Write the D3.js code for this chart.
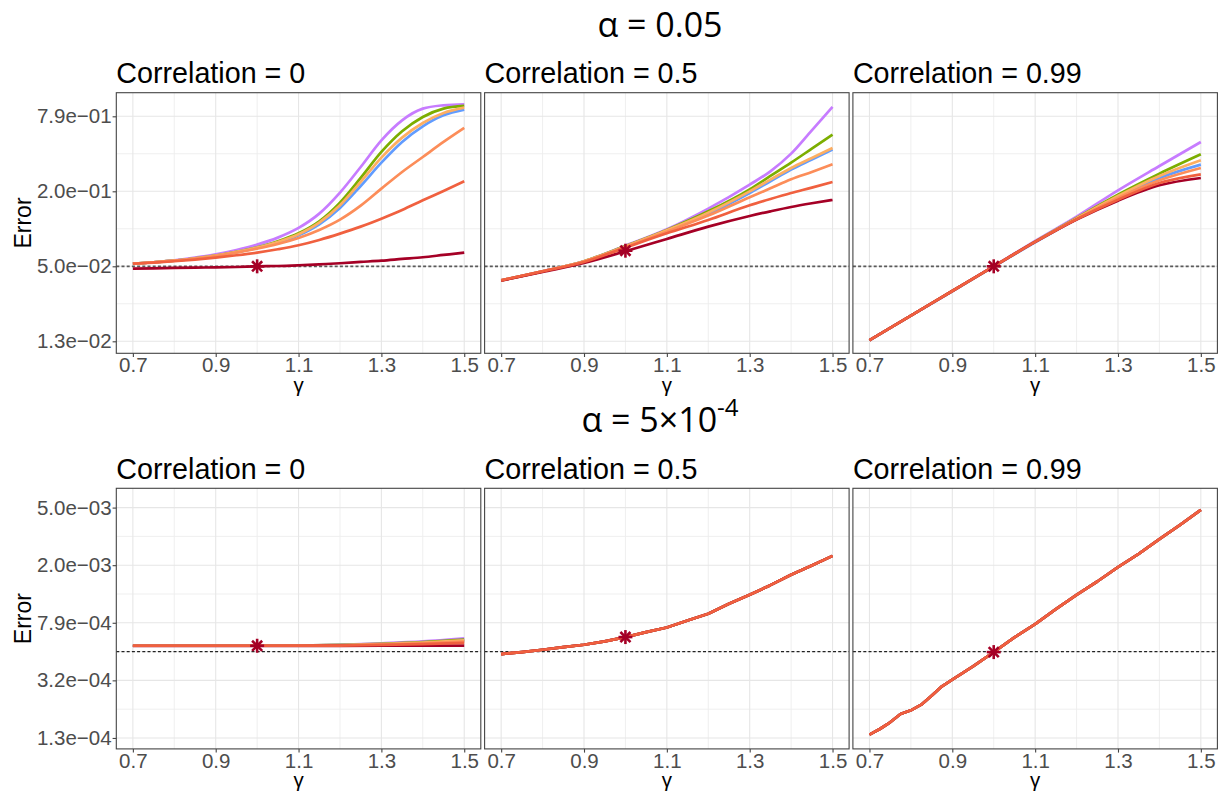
<!DOCTYPE html>
<html><head><meta charset="utf-8">
<script src="https://cdn.jsdelivr.net/npm/d3@7"></script>
<style>body{margin:0;background:#fff}svg{display:block}</style>
</head><body>
<svg id="chart" width="1223" height="796"></svg>
<script>
// ---------------- DATA ----------------
const rowTitles = ["α = 0.05", "α = 5×10"];
const rowTitleSup = ["", "-4"];
const alphaLevels = [0.05, 5e-4];
const corrTitles = ["Correlation = 0", "Correlation = 0.5", "Correlation = 0.99"];

const xTicks = [0.7, 0.9, 1.1, 1.3, 1.5];
const xMinor = [0.8, 1.0, 1.2, 1.4];
const xTickLabels = ["0.7", "0.9", "1.1", "1.3", "1.5"];

const yTicksTop = [0.012589, 0.050119, 0.199526, 0.794328];
const yMinorTop = [0.025119, 0.1, 0.398107];
const yTickLabelsTop = ["1.3e−02", "5.0e−02", "2.0e−01", "7.9e−01"];
const yTicksBottom = [0.00012589, 0.00031623, 0.00079433, 0.0019953, 0.0050119];
const yMinorBottom = [0.00019953, 0.00050119, 0.0012589, 0.0031623];
const yTickLabelsBottom = ["1.3e−04", "3.2e−04", "7.9e−04", "2.0e−03", "5.0e−03"];
const yLimitsTop = [0.010093, 1.2270];
const yLimitsBottom = [0.00010568, 0.0068234];

const seriesOrder = ["purple", "green", "blue", "lightorange", "orange", "darkred", "redorange"];

const gammaFine = [0.7,0.75,0.8,0.85,0.9,0.95,1.0,1.05,1.1,1.15,1.2,1.25,1.3,1.35,1.4,1.45,1.5];
const gammaTop2 = [0.7,0.8,0.9,1.0,1.1,1.2,1.3,1.35,1.4,1.45,1.5];
const gammaNine = [0.7,0.8,0.9,1.0,1.1,1.2,1.3,1.4,1.5];
const gammaBottom3 = [0.7,0.725,0.75,0.775,0.8,0.825,0.85,0.875,0.9,0.95,1.0,1.05,1.1,1.15,1.2,1.25,1.3,1.35,1.4,1.45,1.5];

// alpha = 0.05, correlation = 0
const top_r0 = {
  purple:      [0.0526,0.0540,0.0560,0.0588,0.0625,0.0677,0.0747,0.0850,0.1016,0.1322,0.1947,0.3123,0.5105,0.7379,0.9148,0.9728,0.9909],
  green:       [0.0526,0.0540,0.0556,0.0581,0.0610,0.0653,0.0711,0.0794,0.0920,0.1148,0.1619,0.2551,0.4118,0.6026,0.7846,0.9148,0.9609],
  lightorange: [0.0526,0.0540,0.0556,0.0581,0.0610,0.0653,0.0707,0.0785,0.0904,0.1120,0.1542,0.2370,0.3709,0.5362,0.7026,0.8446,0.9318],
  blue:        [0.0526,0.0540,0.0556,0.0577,0.0606,0.0649,0.0703,0.0775,0.0887,0.1086,0.1468,0.2201,0.3383,0.4951,0.6607,0.8091,0.8981],
  orange:      [0.0526,0.0540,0.0556,0.0577,0.0606,0.0645,0.0694,0.0756,0.0845,0.0979,0.1184,0.1532,0.2096,0.2849,0.3755,0.4951,0.6408],
  redorange:   [0.0526,0.0536,0.0550,0.0567,0.0588,0.0614,0.0645,0.0686,0.0738,0.0814,0.0915,0.1041,0.1206,0.1415,0.1690,0.2008,0.2399],
  darkred:     [0.0480,0.0483,0.0486,0.0489,0.0492,0.0495,0.0501,0.0504,0.0511,0.0520,0.0530,0.0543,0.0556,0.0574,0.0592,0.0618,0.0645]
};
// alpha = 0.05, correlation = 0.5
const top_r05 = {
  purple:      [0.0387,0.0457,0.0550,0.0733,0.0991,0.1450,0.2256,0.2884,0.3993,0.6138,0.9434],
  green:       [0.0387,0.0457,0.0550,0.0729,0.0979,0.1380,0.2070,0.2647,0.3383,0.4378,0.5667],
  lightorange: [0.0387,0.0457,0.0550,0.0724,0.0973,0.1347,0.1995,0.2474,0.3066,0.3687,0.4433],
  blue:        [0.0387,0.0457,0.0546,0.0720,0.0961,0.1314,0.1935,0.2399,0.2973,0.3576,0.4299],
  orange:      [0.0387,0.0457,0.0546,0.0716,0.0949,0.1275,0.1787,0.2109,0.2489,0.2849,0.3281],
  redorange:   [0.0387,0.0457,0.0543,0.0707,0.0920,0.1177,0.1542,0.1733,0.1935,0.2135,0.2370],
  darkred:     [0.0385,0.0452,0.0533,0.0661,0.0829,0.1041,0.1267,0.1380,0.1495,0.1600,0.1701]
};
// alpha = 0.05, correlation = 0.99
const top_r099 = {
  purple:      [0.01283,0.02020,0.03182,0.05043,0.07992,0.1251,0.2032,0.3182,0.4951],
  green:       [0.01283,0.02020,0.03182,0.05012,0.07895,0.1221,0.1877,0.2763,0.3945],
  lightorange: [0.01283,0.02020,0.03182,0.05012,0.07895,0.1213,0.1831,0.2647,0.3532],
  blue:        [0.01283,0.02020,0.03162,0.04981,0.07799,0.1199,0.1787,0.2551,0.3261],
  orange:      [0.01283,0.02020,0.03182,0.05012,0.07850,0.1199,0.1765,0.2444,0.3066],
  redorange:   [0.01283,0.02020,0.03182,0.05012,0.07850,0.1191,0.1711,0.2326,0.2729],
  darkred:     [0.01283,0.02020,0.03182,0.05012,0.07850,0.1184,0.1680,0.2228,0.2551]
};
// alpha = 5e-4, correlation = 0
const bottom_r0 = {
  purple:      [5.50e-4,5.50e-4,5.50e-4,5.50e-4,5.52e-4,5.59e-4,5.72e-4,5.90e-4,6.20e-4],
  green:       [5.50e-4,5.50e-4,5.50e-4,5.50e-4,5.52e-4,5.57e-4,5.67e-4,5.82e-4,6.06e-4],
  lightorange: [5.50e-4,5.50e-4,5.50e-4,5.50e-4,5.51e-4,5.56e-4,5.65e-4,5.79e-4,6.00e-4],
  blue:        [5.50e-4,5.50e-4,5.50e-4,5.50e-4,5.51e-4,5.55e-4,5.63e-4,5.75e-4,5.96e-4],
  orange:      [5.50e-4,5.50e-4,5.50e-4,5.50e-4,5.51e-4,5.54e-4,5.60e-4,5.71e-4,5.88e-4],
  redorange:   [5.50e-4,5.50e-4,5.50e-4,5.50e-4,5.50e-4,5.52e-4,5.57e-4,5.65e-4,5.76e-4],
  darkred:     [5.48e-4,5.48e-4,5.48e-4,5.48e-4,5.48e-4,5.49e-4,5.50e-4,5.51e-4,5.52e-4]
};
// alpha = 5e-4, correlation = 0.5 (all methods coincide)
const bottom_r05 = [4.816e-4,4.972e-4,5.161e-4,5.385e-4,5.589e-4,5.894e-4,6.316e-4,6.843e-4,7.371e-4,8.243e-4,9.174e-4,1.0757e-3,1.2426e-3,1.4497e-3,1.7102e-3,1.9847e-3,2.3158e-3];
// alpha = 5e-4, correlation = 0.99 (all methods coincide)
const bottom_r099 = [1.327e-4,1.453e-4,1.617e-4,1.847e-4,1.958e-4,2.144e-4,2.475e-4,2.873e-4,3.196e-4,3.955e-4,4.972e-4,6.283e-4,7.775e-4,9.881e-4,1.2426e-3,1.537e-3,1.9326e-3,2.3909e-3,3.0224e-3,3.7996e-3,4.8275e-3];

const starGamma = 1.0;
const starTop = [0.0501, 0.0668, 0.0501];
const starBottom = [5.50e-4, 6.32e-4, 4.97e-4];

// ---------------- STYLE / LAYOUT ----------------
const colors = {purple:"#C77CFF", green:"#7CAE00", blue:"#619CFF", lightorange:"#FDAE61",
                orange:"#FC8D59", redorange:"#F0603F", darkred:"#A50026"};
const starColor = "#A50026";
const colLeft = [116.3, 484.6, 852.9];
const panelW = 364.5;
const rowTop = [92.7, 488.3];
const panelH = 260.6;
const sansFont = "'Liberation Sans', Arial, Helvetica, sans-serif";

const svg = d3.select("#chart");
svg.append("rect").attr("width",1223).attr("height",796).attr("fill","#fff");

function allSame(arr){ const o={}; seriesOrder.forEach(k=>o[k]=arr); return o; }

const panels = [
  {row:0,col:0,gamma:gammaFine,  data:top_r0,   star:starTop[0]},
  {row:0,col:1,gamma:gammaTop2,  data:top_r05,  star:starTop[1]},
  {row:0,col:2,gamma:gammaNine,  data:top_r099, star:starTop[2]},
  {row:1,col:0,gamma:gammaNine,  data:bottom_r0, star:starBottom[0]},
  {row:1,col:1,gamma:gammaFine,  data:allSame(bottom_r05), star:starBottom[1], linear:true},
  {row:1,col:2,gamma:gammaBottom3, data:allSame(bottom_r099), star:starBottom[2], linear:true}
];

// row titles
rowTitles.forEach((t,i)=>{
  const txt = svg.append("text")
    .attr("x", 660).attr("y", i===0 ? 36.5 : 432)
    .attr("text-anchor","middle")
    .attr("font-family","'Open Sans', 'DejaVu Sans', sans-serif")
    .attr("font-size", 34).attr("fill","#000");
  txt.append("tspan").text(t);
  if (rowTitleSup[i]) {
    txt.append("tspan").attr("font-size",24).attr("dy",-16).text(rowTitleSup[i]);
  }
});

panels.forEach((p,pi)=>{
  const left = colLeft[p.col], top = rowTop[p.row];
  const x = d3.scaleLinear().domain([0.66, 1.54]).range([left, left+panelW]);
  const y = d3.scaleLog().domain(p.row===0 ? yLimitsTop : yLimitsBottom).range([top+panelH, top]);
  const yT = p.row===0 ? yTicksTop : yTicksBottom;
  const yM = p.row===0 ? yMinorTop : yMinorBottom;
  const yL = p.row===0 ? yTickLabelsTop : yTickLabelsBottom;
  const g = svg.append("g");

  const clipId = "clip"+pi;
  svg.append("clipPath").attr("id",clipId).append("rect")
    .attr("x",left).attr("y",top).attr("width",panelW).attr("height",panelH);

  // grid
  const grid = g.append("g");
  grid.selectAll(".vmin").data(xMinor).join("line")
    .attr("x1",d=>x(d)).attr("x2",d=>x(d)).attr("y1",top).attr("y2",top+panelH)
    .attr("stroke","#ededed").attr("stroke-width",0.9);
  grid.selectAll(".hmin").data(yM).join("line")
    .attr("y1",d=>y(d)).attr("y2",d=>y(d)).attr("x1",left).attr("x2",left+panelW)
    .attr("stroke","#ededed").attr("stroke-width",0.9);
  grid.selectAll(".vmaj").data(xTicks).join("line")
    .attr("x1",d=>x(d)).attr("x2",d=>x(d)).attr("y1",top).attr("y2",top+panelH)
    .attr("stroke","#e6e6e6").attr("stroke-width",1.1);
  grid.selectAll(".hmaj").data(yT).join("line")
    .attr("y1",d=>y(d)).attr("y2",d=>y(d)).attr("x1",left).attr("x2",left+panelW)
    .attr("stroke","#e6e6e6").attr("stroke-width",1.1);

  // alpha line
  g.append("line")
    .attr("x1",left).attr("x2",left+panelW)
    .attr("y1",y(alphaLevels[p.row])).attr("y2",y(alphaLevels[p.row]))
    .attr("stroke", p.row===0 ? "#5a5a5a" : "#222")
    .attr("stroke-width", p.row===0 ? 1.7 : 1.2)
    .attr("stroke-dasharray", "3,2.2");

  // lines
  const line = d3.line()
    .x((d,i)=>x(p.gamma[i])).y(d=>y(d))
    .curve(p.linear ? d3.curveLinear : d3.curveMonotoneX);
  const lg = g.append("g").attr("clip-path",`url(#${clipId})`);
  seriesOrder.forEach(k=>{
    lg.append("path").datum(p.data[k]).attr("d",line)
      .attr("fill","none").attr("stroke",colors[k])
      .attr("stroke-width",2.7).attr("stroke-linejoin","round").attr("stroke-linecap","butt");
  });

  // star (asterisk)
  const sx = x(starGamma), sy = y(p.star), r = 7;
  const arms = [[0,r],[r,0],[r*0.72,r*0.72],[r*0.72,-r*0.72]];
  g.append("g").selectAll("line").data(arms).join("line")
    .attr("x1",d=>sx-d[0]).attr("x2",d=>sx+d[0]).attr("y1",d=>sy-d[1]).attr("y2",d=>sy+d[1])
    .attr("stroke",starColor).attr("stroke-width",2.6);

  // border
  g.append("rect").attr("x",left).attr("y",top).attr("width",panelW).attr("height",panelH)
    .attr("fill","none").attr("stroke","#444").attr("stroke-width",1.1);

  // x axis
  const xa = g.append("g").attr("transform",`translate(0,${top+panelH})`)
    .call(d3.axisBottom(x).tickValues(xTicks).tickFormat((d,i)=>xTickLabels[i]).tickSize(3.7).tickPadding(0.5));
  xa.select(".domain").remove();
  xa.selectAll("line").attr("stroke","#444").attr("stroke-width",1.1);
  xa.selectAll("text").attr("font-family",sansFont).attr("font-size",20.5).attr("fill","#4d4d4d");

  // x title
  g.append("text").attr("x",left+panelW/2).attr("y",top+panelH+38.5)
    .attr("text-anchor","middle").attr("font-family",sansFont).attr("font-size",20.5)
    .attr("fill","#000").text("γ");

  // facet title
  g.append("text").attr("x",left).attr("y",top-9.4)
    .attr("font-family",sansFont).attr("font-size",28.7).attr("fill","#000")
    .text(corrTitles[p.col]);

  if (p.col===0) {
    const ya = g.append("g").attr("transform",`translate(${left},0)`)
      .call(d3.axisLeft(y).tickValues(yT).tickFormat((d,i)=>yL[i]).tickSize(3.7).tickPadding(1));
    ya.select(".domain").remove();
    ya.selectAll("line").attr("stroke","#444").attr("stroke-width",1.1);
    ya.selectAll("text").attr("font-family",sansFont).attr("font-size",20.5).attr("fill","#4d4d4d");
    g.append("text")
      .attr("transform",`translate(30.5,${top+panelH/2}) rotate(-90)`)
      .attr("text-anchor","middle").attr("font-family",sansFont).attr("font-size",23)
      .attr("fill","#000").text("Error");
  }
});
</script>
</body></html>
